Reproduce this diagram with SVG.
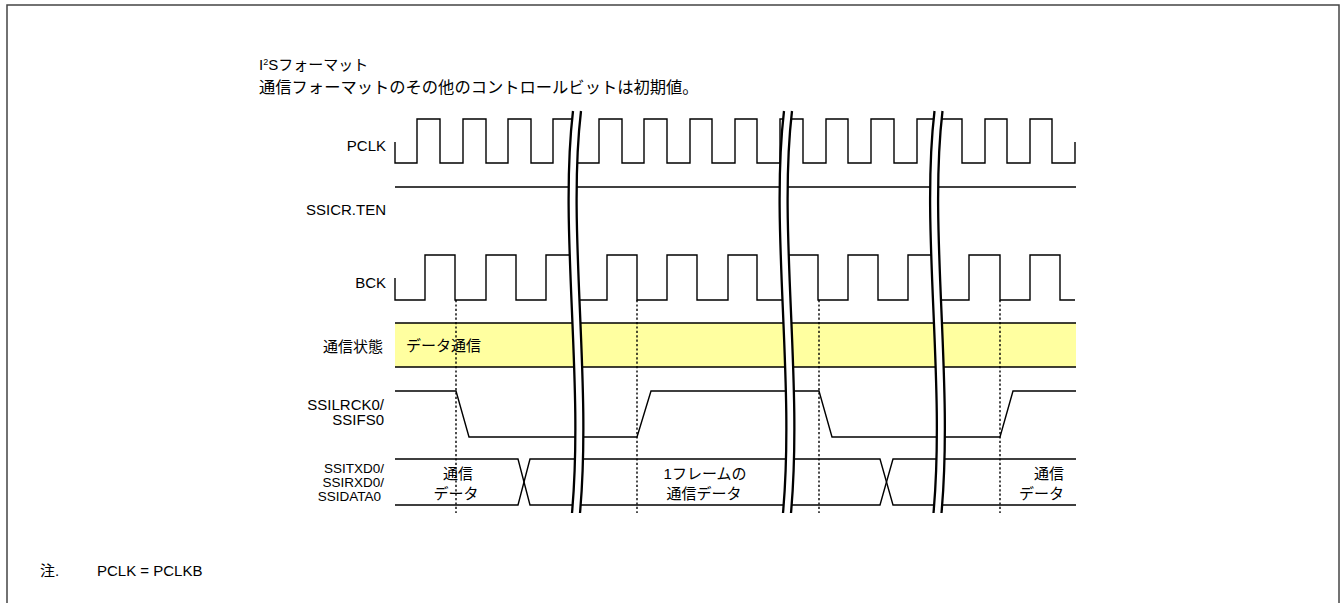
<svg xmlns="http://www.w3.org/2000/svg" xmlns:xlink="http://www.w3.org/1999/xlink" width="1343" height="603" viewBox="0 0 1343 603">
<style>
text{font-family:"Liberation Sans","Noto Sans CJK JP",sans-serif;font-size:15px;fill:#000}
.lbl{text-anchor:end}
.mid{text-anchor:middle}
.sm{font-size:13.5px}
.w{fill:none;stroke:#000;stroke-width:1.4;stroke-linejoin:miter}
.dot{fill:none;stroke:#000;stroke-width:1.4;stroke-dasharray:2.2,2.2}
</style>
<defs>
<g id="brk">
<path d="M0 111 C-14 230 11 380 -1 513" fill="none" stroke="#fff" stroke-width="8"/>
<path d="M-4 111 C-18 230 7 380 -5 513" fill="none" stroke="#000" stroke-width="2.3"/>
<path d="M4 111 C-10 230 15 380 3 513" fill="none" stroke="#000" stroke-width="2.3"/>
</g>
</defs>
<rect x="7" y="5" width="1332" height="610" fill="#fff" stroke="#444" stroke-width="1.5"/>
<g id="title">
<text x="259" y="70">I<tspan font-size="9" dy="-5">2</tspan><tspan dy="5">Sフォーマット</tspan></text>
<text x="259" y="93" style="font-size:16.3px">通信フォーマットのその他のコントロールビットは初期値。</text>
</g>
<g id="labels">
<text class="lbl" x="386" y="151">PCLK</text>
<text class="lbl" x="386" y="215">SSICR.TEN</text>
<text class="lbl" x="386" y="288">BCK</text>
<text class="lbl" x="383" y="352">通信状態</text>
<text class="lbl" x="384" y="410">SSILRCK0/</text>
<text class="lbl" x="384" y="425">SSIFS0</text>
<text class="lbl sm" x="384" y="473">SSITXD0/</text>
<text class="lbl sm" x="384" y="487">SSIRXD0/</text>
<text class="lbl sm" x="381" y="501">SSIDATA0</text>
</g>
<g id="state">
<rect x="395" y="323" width="681" height="44" fill="#ffffa0"/>
<path class="w" d="M395 323 H1076 M395 367 H1076"/>
<text x="406" y="351">データ通信</text>
</g>
<g id="pclk">
<path class="w" d="M395 142 V163 H417 V119 H440 V163 H463 V119 H486 V163 H508 V119 H531 V163 H553 V119 H575"/>
<path class="w" d="M575 163 H599 V119 H622 V163 H644 V119 H667 V163 H690 V119 H712 V163 H735 V119 H757 V163 H780 V119 H803 V163 H826 V119 H848 V163 H871 V119 H894 V163 H917 V119 H962 V163 H985 V119 H1007 V163 H1030 V119 H1052 V163 H1075 V142"/>
</g>
<g id="ten">
<path class="w" d="M395 187 H1076"/>
</g>
<g id="bck">
<path class="w" d="M395 278 V300 H425 V255 H455 V300 H486 V255 H516 V300 H546 V255 H575"/>
<path class="w" d="M575 300 H607 V255 H637 V300 H667 V255 H697 V300 H728 V255 H757 V300 H786"/>
<path class="w" d="M786 255 H818 V300 H848 V255 H878 V300 H908 V255 H937"/>
<path class="w" d="M937 300 H969 V255 H1000 V300 H1030 V255 H1060 V300 H1075"/>
</g>
<g id="lrck">
<path class="w" d="M395 391 H456 L469 437 H637 L651 391 H819 L832 437 H1000 L1013 391 H1076"/>
</g>
<g id="data">
<path class="w" d="M395 459 H518 L530 505 H880 L893 459 H1076"/>
<path class="w" d="M395 505 H518 L530 459 H880 L893 505 H1076"/>
<text class="mid" x="458" y="479">通信</text>
<text class="mid" x="456" y="499">データ</text>
<text class="mid" x="705" y="479">1フレームの</text>
<text class="mid" x="704" y="499">通信データ</text>
<text class="lbl" x="1064" y="479">通信</text>
<text class="lbl" x="1064" y="499">データ</text>
</g>
<g id="connectors">
<path class="dot" d="M456 300 V513 M637 300 V513 M819 300 V513 M1000 300 V513"/>
<use xlink:href="#brk" x="577"/>
<use xlink:href="#brk" x="788"/>
<use xlink:href="#brk" x="938.5"/>
</g>
<g id="note">
<text x="40" y="576">注.</text>
<text x="97" y="576">PCLK = PCLKB</text>
</g>
</svg>
